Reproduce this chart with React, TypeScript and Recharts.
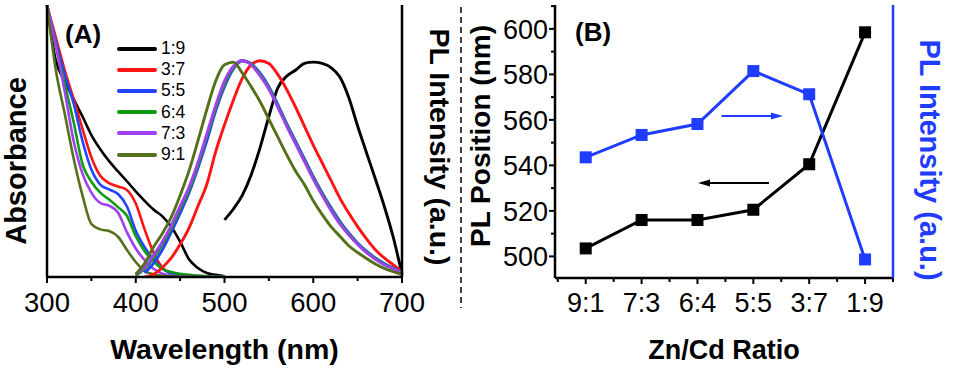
import React from "react";
import { LineChart, Line, XAxis, YAxis, Legend, ReferenceLine } from "recharts";

const FONT = "'Liberation Sans', Arial, Helvetica, sans-serif";

// panel (A): normalised absorbance spectra
const ABS_WL = [300, 310, 320, 330, 340, 350, 360, 370, 380, 390, 400, 410, 420, 430, 440, 450, 460, 470, 480, 490, 500];
const ABS_1_9 = [1.0, 0.795, 0.72, 0.654, 0.59, 0.522, 0.47, 0.426, 0.388, 0.352, 0.315, 0.28, 0.248, 0.223, 0.185, 0.13, 0.065, 0.033, 0.015, 0.008, 0.003];
const ABS_3_7 = [1.0, 0.88, 0.76, 0.655, 0.545, 0.44, 0.372, 0.345, 0.333, 0.32, 0.27, 0.175, 0.09, 0.035, 0.013, 0.006, 0.003, 0.002, 0.001, 0, 0];
const ABS_5_5 = [1.0, 0.865, 0.743, 0.638, 0.5, 0.395, 0.34, 0.322, 0.305, 0.26, 0.17, 0.11, 0.065, 0.03, 0.013, 0.006, 0.003, 0.002, 0.001, 0, 0];
const ABS_6_4 = [1.0, 0.85, 0.71, 0.57, 0.415, 0.35, 0.31, 0.285, 0.257, 0.225, 0.15, 0.095, 0.058, 0.03, 0.018, 0.012, 0.008, 0.005, 0.003, 0.002, 0.001];
const ABS_7_3 = [1.0, 0.85, 0.682, 0.5, 0.38, 0.31, 0.272, 0.262, 0.237, 0.165, 0.105, 0.062, 0.03, 0.012, 0.005, 0.002, 0.001, 0, 0, 0, 0];
const ABS_9_1 = [1.0, 0.76, 0.6, 0.436, 0.3, 0.195, 0.175, 0.169, 0.148, 0.1, 0.055, 0.022, 0.01, 0.004, 0.002, 0.001, 0, 0, 0, 0, 0];

// panel (A): normalised PL spectra
const PL_WL = [400, 410, 420, 430, 440, 450, 460, 470, 480, 490, 500, 510, 520, 530, 540, 550, 560, 570, 580, 590, 600, 610, 620, 630, 640, 650, 660, 670, 680, 690, 700];
const PL_1_9 = [null, null, null, null, null, null, null, null, null, null, 0.21, 0.25, 0.3, 0.375, 0.475, 0.59, 0.695, 0.738, 0.76, 0.785, 0.79, 0.785, 0.77, 0.735, 0.66, 0.555, 0.457, 0.36, 0.26, 0.148, 0.01];
const PL_3_7 = [null, 0, 0.01, 0.035, 0.07, 0.12, 0.18, 0.26, 0.34, 0.46, 0.56, 0.65, 0.73, 0.78, 0.795, 0.785, 0.745, 0.69, 0.625, 0.555, 0.485, 0.42, 0.355, 0.29, 0.235, 0.185, 0.14, 0.1, 0.07, 0.045, 0.02];
const PL_5_5 = [null, 0.015, 0.05, 0.1, 0.165, 0.235, 0.31, 0.4, 0.5, 0.61, 0.7, 0.765, 0.795, 0.785, 0.75, 0.7, 0.635, 0.565, 0.5, 0.435, 0.37, 0.31, 0.255, 0.205, 0.162, 0.125, 0.095, 0.07, 0.05, 0.033, 0.018];
const PL_6_4 = [0.005, 0.03, 0.07, 0.12, 0.18, 0.25, 0.32, 0.41, 0.515, 0.62, 0.71, 0.77, 0.795, 0.783, 0.745, 0.695, 0.63, 0.56, 0.495, 0.43, 0.365, 0.305, 0.25, 0.2, 0.158, 0.122, 0.092, 0.067, 0.047, 0.031, 0.016];
const PL_7_3 = [0.01, 0.035, 0.08, 0.13, 0.19, 0.26, 0.33, 0.42, 0.525, 0.63, 0.72, 0.775, 0.795, 0.78, 0.74, 0.69, 0.625, 0.555, 0.49, 0.425, 0.36, 0.3, 0.245, 0.195, 0.155, 0.12, 0.09, 0.065, 0.045, 0.03, 0.015];
const PL_9_1 = [0.01, 0.05, 0.11, 0.16, 0.22, 0.3, 0.39, 0.5, 0.615, 0.72, 0.78, 0.79, 0.75, 0.7, 0.645, 0.58, 0.515, 0.45, 0.39, 0.34, 0.28, 0.23, 0.185, 0.15, 0.115, 0.09, 0.068, 0.048, 0.032, 0.02, 0.01];

const WL_TICKS = [300, 350, 400, 450, 500, 550, 600, 650, 700];

// panel (B)
const RATIOS = ["9:1", "7:3", "6:4", "5:5", "3:7", "1:9"];
const PL_POSITION = [503.5, 516, 516, 520.5, 540.5, 598.5];
const PL_INTENSITY = [44.2, 52.4, 56.4, 75.8, 67.3, 6.8];
const RATIO_TICKS = [-0.5, 0, 0.5, 1, 1.5, 2, 2.5, 3, 3.5, 4, 4.5, 5, 5.5];
const POS_TICKS = [500, 510, 520, 530, 540, 550, 560, 570, 580, 590, 600, 610];

const BLUE = "#1f3cff";

const SERIES = [
  { key: "1_9", name: "1:9", color: "#000000", abs: ABS_1_9, pl: PL_1_9 },
  { key: "3_7", name: "3:7", color: "#ff1414", abs: ABS_3_7, pl: PL_3_7 },
  { key: "5_5", name: "5:5", color: "#2244ff", abs: ABS_5_5, pl: PL_5_5 },
  { key: "6_4", name: "6:4", color: "#139a13", abs: ABS_6_4, pl: PL_6_4 },
  { key: "7_3", name: "7:3", color: "#a13ff2", abs: ABS_7_3, pl: PL_7_3 },
  { key: "9_1", name: "9:1", color: "#55701a", abs: ABS_9_1, pl: PL_9_1 },
];

const spectra = [...new Set([...ABS_WL, ...PL_WL])]
  .sort((a, b) => a - b)
  .map((wl) => {
    const row: Record<string, number | null> = { wl };
    const ai = ABS_WL.indexOf(wl);
    const pi = PL_WL.indexOf(wl);
    SERIES.forEach((s) => {
      row["abs_" + s.key] = ai >= 0 ? s.abs[ai] : null;
      row["pl_" + s.key] = pi >= 0 ? s.pl[pi] : null;
    });
    return row;
  });

const ratioRows = RATIOS.map((r, i) => ({
  idx: i,
  ratio: r,
  pos: PL_POSITION[i],
  inten: PL_INTENSITY[i],
}));

const WavelengthTick = (props: any) => {
  const { x, y, payload } = props;
  const major = payload.value % 100 === 0;
  return (
    <g>
      <line x1={x} x2={x} y1={y} y2={y + (major ? 6 : 4)} stroke="#000" strokeWidth={2} />
      {major && (
        <text x={x} y={y + 35} textAnchor="middle" fontSize={27.5} fontFamily={FONT} fill="#000">
          {payload.value}
        </text>
      )}
    </g>
  );
};

const RatioTick = (props: any) => {
  const { x, y, payload } = props;
  const major = Number.isInteger(payload.value);
  return (
    <g>
      <line x1={x} x2={x} y1={y} y2={y + (major ? 6 : 4)} stroke="#000" strokeWidth={2} />
      {major && (
        <text x={x} y={y + 34} textAnchor="middle" fontSize={27} fontFamily={FONT} fill="#000">
          {RATIOS[payload.value]}
        </text>
      )}
    </g>
  );
};

const PositionTick = (props: any) => {
  const { x, y, payload } = props;
  const major = payload.value % 20 === 0;
  return (
    <g>
      <line x1={x - (major ? 6 : 4)} x2={x} y1={y} y2={y} stroke="#000" strokeWidth={2} />
      {major && (
        <text x={x - 7} y={y + 10} textAnchor="end" fontSize={27} fontFamily={FONT} fill="#000">
          {payload.value}
        </text>
      )}
    </g>
  );
};

const SquareDot = (props: any) => {
  const { cx, cy, fill, index } = props;
  if (cx == null || cy == null) return <g key={index} />;
  return <rect key={index} x={cx - 6} y={cy - 6} width={12} height={12} fill={fill} />;
};

const Arrow = (props: any) => {
  const { x1, y1, x2, y2, stroke } = props;
  const dir = Math.sign(x2 - x1);
  const hx = x2 - dir * 12;
  return (
    <g>
      <line x1={x1} y1={y1} x2={hx} y2={y2} stroke={stroke} strokeWidth={2} />
      <polygon points={`${x2},${y2} ${hx},${y2 - 3.5} ${hx},${y2 + 3.5}`} fill={stroke} />
    </g>
  );
};

// axis titles, placed from the axis viewBox
const xTitle = (text: string, dy: number, size: number) => (props: any) => {
  const vb = props.viewBox;
  return (
    <text x={vb.x + vb.width / 2} y={vb.y + dy} textAnchor="middle" fontSize={size} fontWeight="bold" fontFamily={FONT} fill="#000">
      {text}
    </text>
  );
};

const yTitle = (text: string, dx: number, cy: number, angle: number, color: string, size: number) => (props: any) => {
  const vb = props.viewBox;
  const x = vb.x + dx;
  return (
    <text x={x} y={cy} transform={`rotate(${angle}, ${x}, ${cy})`} textAnchor="middle" fontSize={size} fontWeight="bold" fontFamily={FONT} fill={color}>
      {text}
    </text>
  );
};

const SpectraLegend = (props: any) => {
  const items = (props.payload || []).filter((p: any) => p.type !== "none");
  return (
    <div style={{ fontFamily: FONT }}>
      {items.map((p: any) => (
        <div key={p.value} style={{ display: "flex", alignItems: "center", height: 21.2 }}>
          <div style={{ width: 40, height: 4, background: p.color, borderRadius: 2 }} />
          <span style={{ fontSize: 17.5, marginLeft: 4, lineHeight: "17px", color: "#000" }}>{p.value}</span>
        </div>
      ))}
    </div>
  );
};

const panelTag: React.CSSProperties = {
  position: "absolute",
  fontFamily: FONT,
  fontWeight: "bold",
  fontSize: 26,
  lineHeight: "26px",
  color: "#000",
};

export default function App() {
  return (
    <div style={{ position: "absolute", left: 0, top: 0, width: 977, height: 370, background: "#fff", overflow: "hidden" }}>
      <div style={{ position: "absolute", left: 0, top: 0 }}>
        <LineChart width={470} height={370} data={spectra} margin={{ top: 5, right: 18, bottom: 33, left: 0 }}>
          <XAxis
            xAxisId="b"
            dataKey="wl"
            type="number"
            domain={[300, 700]}
            ticks={WL_TICKS}
            interval={0}
            tick={<WavelengthTick />}
            tickLine={false}
            tickSize={0}
            tickMargin={0}
            height={60}
            axisLine={{ stroke: "#000", strokeWidth: 2.5 }}
            label={xTitle("Wavelength (nm)", 82, 28.5)}
          />
          <XAxis xAxisId="t" orientation="top" dataKey="wl" type="number" domain={[300, 700]} tick={false} tickLine={false} height={0} axisLine={{ stroke: "#000", strokeWidth: 2.5 }} />
          <YAxis
            yAxisId="L"
            domain={[0, 1]}
            allowDataOverflow
            tick={false}
            tickLine={false}
            width={47}
            axisLine={{ stroke: "#000", strokeWidth: 2.5 }}
            label={yTitle("Absorbance", 26, 161, -90, "#000", 29)}
          />
          <YAxis
            yAxisId="R"
            orientation="right"
            domain={[0, 1]}
            allowDataOverflow
            tick={false}
            tickLine={false}
            width={50}
            axisLine={{ stroke: "#000", strokeWidth: 2.5 }}
            label={yTitle("PL Intensity (a.u.)", 28, 147, 90, "#000", 28.5)}
          />
          <Legend
            layout="vertical"
            align="center"
            verticalAlign="middle"
            wrapperStyle={{ left: 117, top: 38, width: "auto" }}
            content={<SpectraLegend />}
          />
          {SERIES.map((s) => (
            <Line
              key={"abs_" + s.key}
              xAxisId="b"
              yAxisId="L"
              type="monotone"
              dataKey={"abs_" + s.key}
              name={s.name}
              stroke={s.color}
              strokeWidth={2.6}
              dot={false}
              isAnimationActive={false}
            />
          ))}
          {SERIES.map((s) => (
            <Line
              key={"pl_" + s.key}
              xAxisId="b"
              yAxisId="L"
              type="monotone"
              dataKey={"pl_" + s.key}
              name={s.name + " PL"}
              legendType="none"
              stroke={s.color}
              strokeWidth={2.9}
              dot={false}
              isAnimationActive={false}
            />
          ))}
        </LineChart>
      </div>

      <div style={{ ...panelTag, left: 65, top: 21 }}>(A)</div>

      <svg style={{ position: "absolute", left: 459, top: 0 }} width={4} height={312}>
        <line x1={2} x2={2} y1={7} y2={308} stroke="#000" strokeWidth={1.5} strokeDasharray="6 4" />
      </svg>

      <div style={{ position: "absolute", left: 465, top: 0 }}>
        <LineChart width={512} height={370} data={ratioRows} margin={{ top: 5, right: 34, bottom: 32, left: 0 }}>
          <XAxis
            xAxisId="b"
            dataKey="idx"
            type="number"
            domain={[-0.55, 5.5]}
            ticks={RATIO_TICKS}
            interval={0}
            tick={<RatioTick />}
            tickLine={false}
            tickSize={0}
            tickMargin={0}
            height={60}
            axisLine={{ stroke: "#000", strokeWidth: 2.5 }}
            label={xTitle("Zn/Cd Ratio", 81, 27)}
          />
          <XAxis xAxisId="t" orientation="top" dataKey="idx" type="number" domain={[-0.55, 5.5]} tick={false} tickLine={false} height={0} axisLine={{ stroke: "#000", strokeWidth: 2.5 }} />
          <YAxis
            yAxisId="L"
            domain={[490.5, 610.5]}
            ticks={POS_TICKS}
            interval={0}
            tick={<PositionTick />}
            tickLine={false}
            tickSize={0}
            tickMargin={0}
            width={90}
            axisLine={{ stroke: "#000", strokeWidth: 2.5 }}
            label={yTitle("PL Position (nm)", 25, 136, -90, "#000", 28)}
          />
          <YAxis
            yAxisId="R"
            orientation="right"
            domain={[0, 100]}
            tick={false}
            tickLine={false}
            width={50}
            axisLine={{ stroke: BLUE, strokeWidth: 2.5 }}
            label={yTitle("PL Intensity (a.u.)", 27, 160, 90, BLUE, 29)}
          />
          <ReferenceLine
            xAxisId="b"
            yAxisId="R"
            segment={[{ x: 2.43, y: 59.3 }, { x: 3.53, y: 59.3 }]}
            stroke={BLUE}
            shape={Arrow}
          />
          <ReferenceLine
            xAxisId="b"
            yAxisId="L"
            segment={[{ x: 3.28, y: 532.3 }, { x: 2.01, y: 532.3 }]}
            stroke="#000"
            shape={Arrow}
          />
          <Line
            xAxisId="b"
            yAxisId="L"
            dataKey="pos"
            stroke="#000"
            strokeWidth={3}
            dot={(p: any) => <SquareDot key={p.index} {...p} fill="#000" />}
            isAnimationActive={false}
          />
          <Line
            xAxisId="b"
            yAxisId="R"
            dataKey="inten"
            stroke={BLUE}
            strokeWidth={3}
            dot={(p: any) => <SquareDot key={p.index} {...p} fill={BLUE} />}
            isAnimationActive={false}
          />
        </LineChart>
      </div>

      <div style={{ ...panelTag, left: 575, top: 19 }}>(B)</div>
    </div>
  );
}
